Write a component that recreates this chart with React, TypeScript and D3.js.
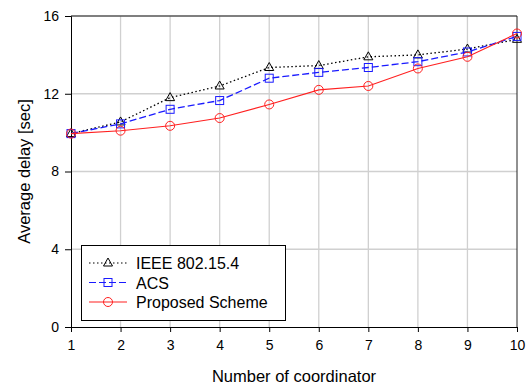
import React, { useEffect, useRef } from 'react'
import * as d3 from 'd3'

const coordinators = [1, 2, 3, 4, 5, 6, 7, 8, 9, 10]
const ieee = [9.95, 10.55, 11.8, 12.4, 13.35, 13.45, 13.9, 14.0, 14.3, 14.8]
const acs = [9.95, 10.45, 11.2, 11.65, 12.8, 13.1, 13.35, 13.65, 14.15, 14.95]
const proposed = [9.95, 10.1, 10.35, 10.75, 11.45, 12.2, 12.4, 13.3, 13.9, 15.1]
const yTicks = [0, 4, 8, 12, 16]

const series = [
  { name: 'IEEE 802.15.4', values: ieee, color: '#000', dash: '1.5,2.5', marker: 'triangle' },
  { name: 'ACS', values: acs, color: '#1a1aff', dash: '7,3', marker: 'square' },
  { name: 'Proposed Scheme', values: proposed, color: '#ff2020', dash: null, marker: 'circle' },
]

function App() {
  const svgRef = useRef<SVGSVGElement>(null)

  useEffect(() => {
    const width = 526
    const height = 385
    const m = { left: 71, right: 9, top: 16, bottom: 58 }
    const svg = d3.select(svgRef.current)
    svg.selectAll('*').remove()

    const x = d3.scaleLinear().domain([1, 10]).range([m.left, width - m.right])
    const y = d3.scaleLinear().domain([0, 16]).range([height - m.bottom, m.top])
    const font = 'Liberation Sans, Arial, sans-serif'

    // grid
    svg.append('g')
      .selectAll('line.vx')
      .data(coordinators.slice(1, -1))
      .join('line')
      .attr('x1', d => x(d)).attr('x2', d => x(d))
      .attr('y1', y(0)).attr('y2', y(16))
      .attr('stroke', '#d0d0d0').attr('stroke-width', 1.3)
    svg.append('g')
      .selectAll('line')
      .data(yTicks.slice(1, -1))
      .join('line')
      .attr('x1', x(1)).attr('x2', x(10))
      .attr('y1', d => y(d)).attr('y2', d => y(d))
      .attr('stroke', '#d0d0d0').attr('stroke-width', 1.3)

    // frame top / right
    svg.append('line').attr('x1', x(1)).attr('x2', x(10)).attr('y1', y(16)).attr('y2', y(16))
      .attr('stroke', '#555').attr('stroke-width', 1.5)
    svg.append('line').attr('x1', x(10)).attr('x2', x(10)).attr('y1', y(16)).attr('y2', y(0))
      .attr('stroke', '#222').attr('stroke-width', 1)

    // axes
    const xAxis = svg.append('g')
      .attr('transform', `translate(0,${y(0)})`)
      .call(d3.axisBottom(x).tickValues(coordinators).tickSize(5).tickPadding(8).tickFormat(d3.format('d')))
    const yAxis = svg.append('g')
      .attr('transform', `translate(${x(1)},0)`)
      .call(d3.axisLeft(y).tickValues(yTicks).tickSize(6).tickPadding(6))
    for (const g of [xAxis, yAxis]) {
      g.select('.domain').attr('stroke', '#000')
      g.selectAll('.tick line').attr('stroke', '#000')
      g.selectAll('text').attr('font-family', font).attr('font-size', 14).attr('fill', '#000')
    }

    const line = d3.line<number>().x((_, i) => x(coordinators[i])).y(d => y(d))

    const drawMarker = (g: any, kind: string, cx: number, cy: number, color: string) => {
      if (kind === 'circle') {
        g.append('circle').attr('cx', cx).attr('cy', cy).attr('r', 4.5)
          .attr('fill', 'none').attr('stroke', color).attr('stroke-width', 1)
      } else if (kind === 'square') {
        g.append('rect').attr('x', cx - 4).attr('y', cy - 4).attr('width', 8).attr('height', 8)
          .attr('fill', 'none').attr('stroke', color).attr('stroke-width', 1)
      } else {
        g.append('path').attr('d', `M${cx},${cy - 5}L${cx + 4.5},${cy + 3}L${cx - 4.5},${cy + 3}Z`)
          .attr('fill', 'none').attr('stroke', color).attr('stroke-width', 1)
      }
    }

    for (const s of series) {
      const g = svg.append('g')
      g.append('path').attr('d', line(s.values))
        .attr('fill', 'none').attr('stroke', s.color).attr('stroke-width', s.dash ? 1.3 : 1.1)
        .attr('stroke-dasharray', s.dash)
      s.values.forEach((v, i) => drawMarker(g, s.marker, x(coordinators[i]), y(v), s.color))
    }

    // legend
    const lg = svg.append('g')
    lg.append('rect').attr('x', 81.5).attr('y', 245.5).attr('width', 204).attr('height', 75)
      .attr('fill', '#fff').attr('stroke', '#000').attr('stroke-width', 1)
    series.forEach((s, i) => {
      const ly = 263 + i * 19.5
      lg.append('line').attr('x1', 89).attr('x2', 127).attr('y1', ly).attr('y2', ly)
        .attr('stroke', s.color).attr('stroke-width', 1.1).attr('stroke-dasharray', s.dash)
      drawMarker(lg, s.marker, 108, ly, s.color)
      lg.append('text').attr('x', 136).attr('y', ly + 6)
        .attr('font-family', font).attr('font-size', 16).text(s.name)
    })

    // titles
    svg.append('text').attr('x', (x(1) + x(10)) / 2).attr('y', 382)
      .attr('text-anchor', 'middle').attr('font-family', font).attr('font-size', 16.5)
      .text('Number of coordinator')
    svg.append('text').attr('transform', `translate(30,${(y(0) + y(16)) / 2}) rotate(-90)`)
      .attr('text-anchor', 'middle').attr('font-family', font).attr('font-size', 16.5)
      .text('Average delay [sec]')
  }, [])

  return <svg ref={svgRef} width={526} height={385} style={{ position: 'absolute', left: 0, top: 0 }} />
}

export default App
